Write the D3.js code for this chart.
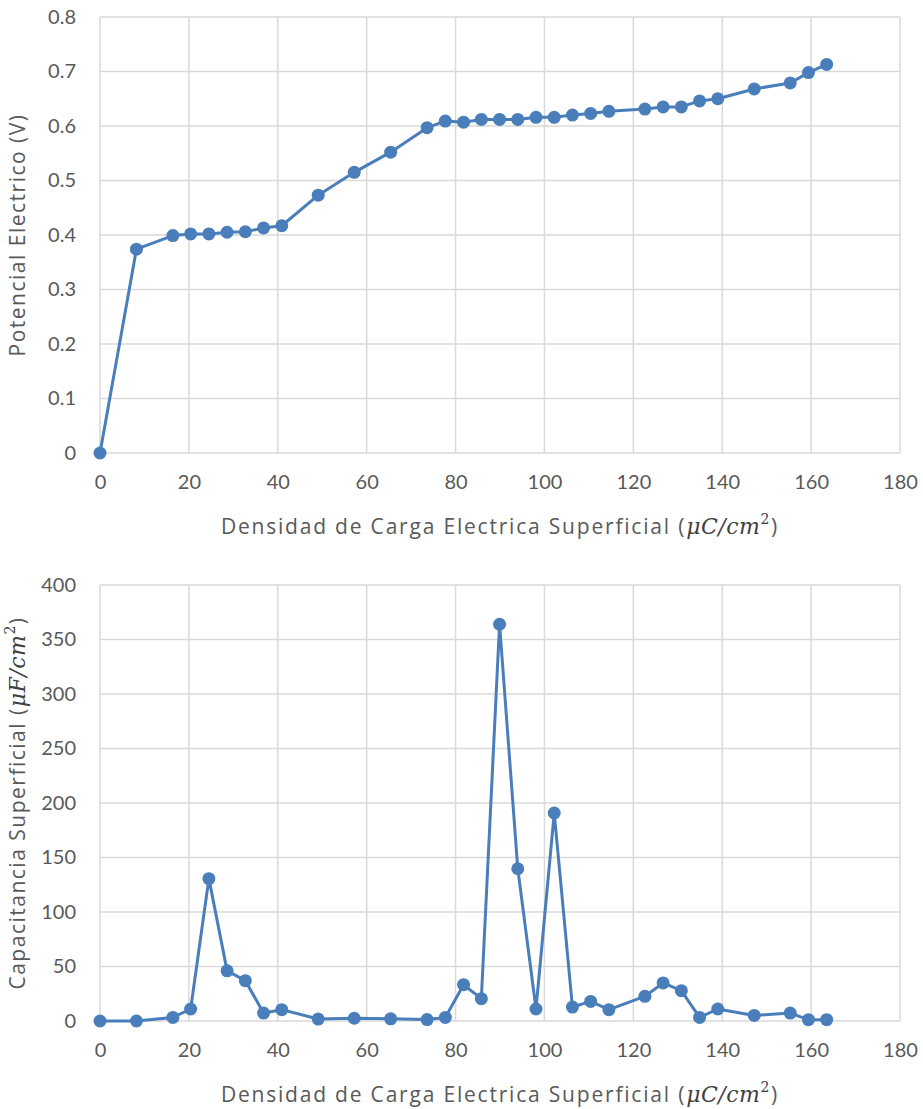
<!DOCTYPE html>
<html>
<head>
<meta charset="utf-8">
<script src="https://cdn.jsdelivr.net/npm/d3@7"></script>
<style>
  body { margin: 0; background: #fff; }
  svg { display: block; }
</style>
</head>
<body>
<svg id="chart" width="923" height="1109"></svg>
<script>
// surface charge density (uC/cm2), shared by both charts
const density = [0, 8.2, 16.4, 20.4, 24.5, 28.6, 32.7, 36.8, 40.9, 49.1, 57.2, 65.4, 73.6, 77.7,
  81.8, 85.8, 89.9, 94.0, 98.1, 102.2, 106.3, 110.4, 114.5, 122.6, 126.7, 130.8, 134.9, 139.0,
  147.2, 155.3, 159.4, 163.5]

// electric potential (V)
const potential = [0, 0.374, 0.399, 0.402, 0.402, 0.405, 0.406, 0.413, 0.417, 0.473, 0.515, 0.552,
  0.597, 0.609, 0.607, 0.612, 0.612, 0.612, 0.616, 0.616, 0.620, 0.623, 0.627, 0.631, 0.635, 0.635,
  0.646, 0.650, 0.668, 0.679, 0.698, 0.713]

// surface capacitance (uF/cm2)
const capacitance = [0, 0, 3.3, 11, 130.6, 46, 37, 7.3, 10.4, 1.8, 2.5, 2, 1.3, 3.3, 33.3, 20.5,
  364, 139.7, 11, 190.8, 12.8, 18, 10.4, 22.6, 34.9, 27.8, 3.3, 11, 5.1, 7.3, 1.2, 1.2]

const xTicks = [0, 20, 40, 60, 80, 100, 120, 140, 160, 180]
const potentialTicks = [0, 0.1, 0.2, 0.3, 0.4, 0.5, 0.6, 0.7, 0.8]
const capacitanceTicks = [0, 50, 100, 150, 200, 250, 300, 350, 400]

const textColor = '#595959'
const gridColor = '#d9d9d9'
const lineColor = '#4a7ebb'
const font = 'Lato, "Open Sans", sans-serif'
const titleFont = '"Open Sans", sans-serif'
const mathFont = '"DejaVu Serif", serif'

const svg = d3.select('#chart')

// appends "(unit²)" with the unit in italic serif, like the LaTeX label
function addUnit(text, unit) {
  text.append('tspan').text(' (')
  text.append('tspan')
    .attr('font-family', mathFont)
    .attr('font-style', 'italic')
    .attr('font-size', 22)
    .attr('letter-spacing', 0.5)
    .attr('fill', '#404040')
    .text(unit)
  text.append('tspan')
    .attr('font-family', mathFont)
    .attr('font-size', 14)
    .attr('dy', -10)
    .attr('fill', '#404040')
    .text('2')
  text.append('tspan').attr('dy', 10).text(')')
}

function drawChart(opts) {
  const { top, bottom, yValues, yTicks, yFormat, yTitle, yUnit } = opts

  const x = d3.scaleLinear().domain([0, 180]).range([100, 900])
  const y = d3.scaleLinear().domain([0, d3.max(yTicks)]).range([bottom, top])

  const g = svg.append('g')

  // grid
  g.append('g')
    .selectAll('line')
    .data(yTicks)
    .join('line')
    .attr('x1', x(0))
    .attr('x2', x(180))
    .attr('y1', (d) => y(d))
    .attr('y2', (d) => y(d))
    .attr('stroke', gridColor)
    .attr('stroke-width', 1.5)

  g.append('g')
    .selectAll('line')
    .data(xTicks)
    .join('line')
    .attr('x1', (d) => x(d))
    .attr('x2', (d) => x(d))
    .attr('y1', y.range()[0])
    .attr('y2', y.range()[1])
    .attr('stroke', gridColor)
    .attr('stroke-width', 1.5)

  // axes (labels only)
  const xAxis = g
    .append('g')
    .attr('transform', `translate(0,${bottom})`)
    .call(d3.axisBottom(x).tickValues(xTicks).tickSize(0).tickPadding(22))
  const yAxis = g
    .append('g')
    .attr('transform', `translate(${x(0)},0)`)
    .call(
      d3.axisLeft(y).tickValues(yTicks).tickFormat(yFormat).tickSize(0).tickPadding(24)
    )
  ;[xAxis, yAxis].forEach((a) => {
    a.select('.domain').remove()
    a.selectAll('text')
      .attr('fill', textColor)
      .attr('font-family', font)
      .attr('font-size', 20)
  })

  // line + markers
  const pts = density.map((d, i) => [d, yValues[i]])
  g.append('path')
    .datum(pts)
    .attr('fill', 'none')
    .attr('stroke', lineColor)
    .attr('stroke-width', 3)
    .attr('stroke-linejoin', 'round')
    .attr(
      'd',
      d3
        .line()
        .x((d) => x(d[0]))
        .y((d) => y(d[1]))
    )
  g.append('g')
    .selectAll('circle')
    .data(pts)
    .join('circle')
    .attr('cx', (d) => x(d[0]))
    .attr('cy', (d) => y(d[1]))
    .attr('r', 6.5)
    .attr('fill', lineColor)

  // x title
  const xt = g
    .append('text')
    .attr('x', 500)
    .attr('y', bottom + 81)
    .attr('text-anchor', 'middle')
    .attr('font-family', titleFont)
    .attr('font-size', 21)
    .attr('letter-spacing', 1.8)
    .attr('fill', textColor)
  xt.append('tspan').text('Densidad de Carga Electrica Superficial')
  addUnit(xt, 'μC/cm')

  // y title
  const yt = g
    .append('text')
    .attr('transform', `translate(25,${(top + bottom) / 2}) rotate(-90)`)
    .attr('text-anchor', 'middle')
    .attr('font-family', titleFont)
    .attr('font-size', 21)
    .attr('letter-spacing', 1.5)
    .attr('fill', textColor)
  yt.append('tspan').text(yTitle)
  if (yUnit) addUnit(yt, yUnit)
}

drawChart({
  top: 17,
  bottom: 453,
  yValues: potential,
  yTicks: potentialTicks,
  yFormat: d3.format('.1~f'),
  yTitle: 'Potencial Electrico (V)',
})

drawChart({
  top: 585,
  bottom: 1021,
  yValues: capacitance,
  yTicks: capacitanceTicks,
  yFormat: d3.format('d'),
  yTitle: 'Capacitancia Superficial',
  yUnit: 'μF/cm',
})
</script>
</body>
</html>
